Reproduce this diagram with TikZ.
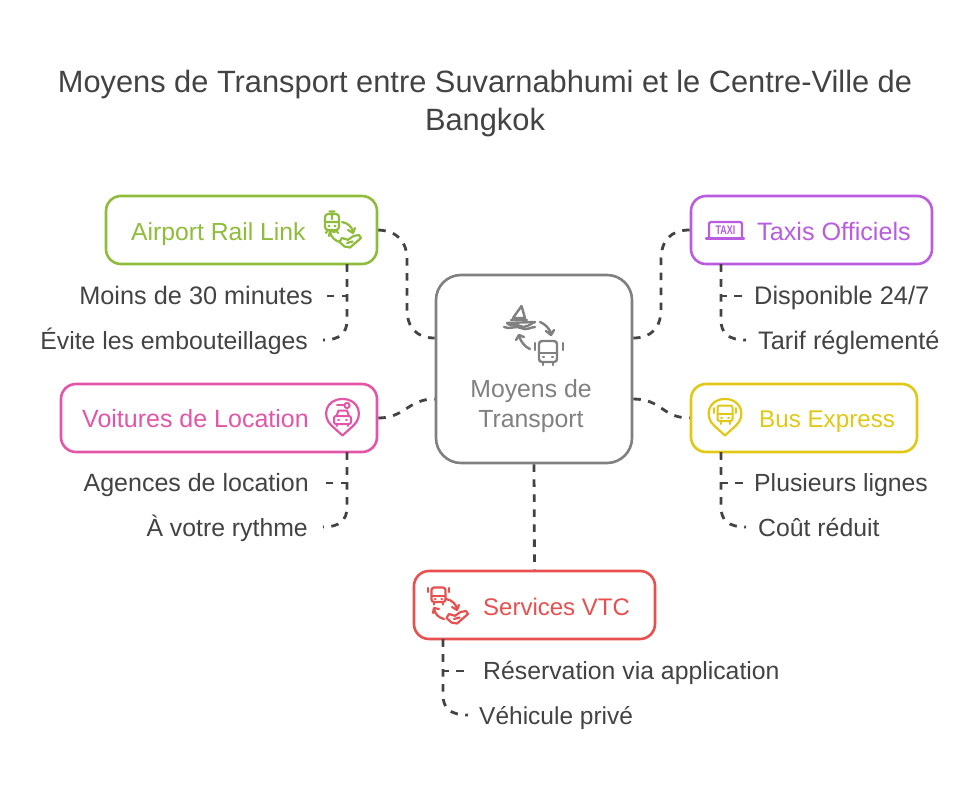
\documentclass[tikz,border=0pt]{standalone}
\usepackage{fontspec}
\setmainfont{Liberation Sans}
\definecolor{ink}{HTML}{434343}
\definecolor{hub}{HTML}{808080}
\definecolor{cgreen}{HTML}{8FBC3A}
\definecolor{cpurple}{HTML}{B95CE0}
\definecolor{cpink}{HTML}{E355A6}
\definecolor{cyellow}{HTML}{E0C815}
\definecolor{cred}{HTML}{E8504F}
\tikzset{
  cardbox/.style={draw=#1,line width=2.6pt,rounded corners=15pt,fill=white,inner sep=0pt,text=#1},
  hubbox/.style={draw=hub,line width=2.6pt,rounded corners=25pt,fill=white,inner sep=0pt},
  link/.style={draw=ink,line width=2.8pt,dash pattern=on 7.5pt off 7.5pt},
  cardtext/.style={font=\fontsize{25}{29}\selectfont,anchor=base west,inner sep=0pt,text=#1},
  itemtext/.style={font=\fontsize{24.8}{29}\selectfont,text=ink,inner sep=0pt},
  ico/.style={line width=2.2pt,line cap=round,line join=round},
  pics/trainicon/.style={code={
    \draw[ico,draw=#1,rounded corners=3pt] (-7,-8) rectangle (7,8);
    \draw[ico,draw=#1] (-7,0) -- (7,0) (-2.5,-10.5) -- (2.5,-10.5) (-4,8) -- (-6,11) (4,8) -- (6,11) (-3.5,4) -- (-2.5,4) (3.5,4) -- (2.5,4) (0,-8) -- (0,-3);
  }},
  pics/busicon/.style={code={
    \draw[ico,draw=#1,rounded corners=2.5pt] (-7,-7.5) rectangle (7,7);
    \draw[ico,draw=#1] (-7,1) -- (7,1) (-4.5,7) -- (-4.5,9.5) (4.5,7) -- (4.5,9.5) (-10.5,-7) -- (-10.5,-3) (10.5,-7) -- (10.5,-3) (-3.5,4) -- (-3,4) (3.5,4) -- (3,4);
  }},
  pics/planehand/.style={code={
    \draw[ico,draw=#1] (-10.5,1) -- (-5.5,5.5) -- (0,6.5) -- (11,-3) -- (9,-6) -- (3.5,-5) -- (-2,-1.2) -- (-8,-3) -- cycle;
    \draw[ico,draw=#1] (-3,2) -- (2.5,.5);
  }},
  pics/swaparrows/.style={code={
    \draw[ico,draw=#1] (-3,-10) .. controls (3,-9) and (7,-5) .. (8,0);
    \draw[ico,draw=#1] (3,-2) -- (8,1) -- (10,-4);
    \draw[ico,draw=#1] (-5,10) .. controls (-10,9) and (-14,5) .. (-15,0);
    \draw[ico,draw=#1] (-16,4) -- (-15,-1) -- (-10,0);
  }},
  pics/pinshape/.style={code={
    \draw[ico,draw=#1] (0,20) -- (-11,10) .. controls (-21,1) and (-17,-16.5) .. (0,-16.5) .. controls (17,-16.5) and (21,1) .. (11,10) -- cycle;
  }}
}
\begin{document}
\begin{tikzpicture}[x=1pt,y=-1pt]
\useasboundingbox (0,0) rectangle (978,790);
\fill[white] (0,0) rectangle (978,790);
\node[font=\fontsize{30.8}{38}\selectfont,text=ink,anchor=base,inner sep=0pt] (title) at (485,92) {Moyens de Transport entre Suvarnabhumi et le Centre-Ville de};
\node[font=\fontsize{30.8}{38}\selectfont,text=ink,anchor=base,inner sep=0pt] (title2) at (485,130) {Bangkok};

\node[hubbox,minimum width=196pt,minimum height=188pt] (hub) at (534,369) {};
\node[cardbox=cgreen,minimum width=271pt,minimum height=68pt] (rail) at (241.5,230) {};
\node[cardbox=cpurple,minimum width=241pt,minimum height=68pt] (taxi) at (811.5,230) {};
\node[cardbox=cpink,minimum width=316pt,minimum height=68pt] (car) at (219,418) {};
\node[cardbox=cyellow,minimum width=226pt,minimum height=68pt] (bus) at (804,418) {};
\node[cardbox=cred,minimum width=241pt,minimum height=68pt] (vtc) at (534.5,605) {};

\node[itemtext,text=hub,anchor=base] (hubt) at (531,397) {Moyens de};
\node[itemtext,text=hub,anchor=base] (hubu) at (531,427) {Transport};
\node[cardtext=cgreen,font=\fontsize{24.7}{29}\selectfont] (railt) at (131,240) {Airport Rail Link};
\node[cardtext=cpurple,font=\fontsize{25.2}{29}\selectfont] (taxit) at (757,240) {Taxis Officiels};
\node[cardtext=cpink] (cart) at (82,427) {Voitures de Location};
\node[cardtext=cyellow,font=\fontsize{24.2}{29}\selectfont] (bust) at (759,427) {Bus Express};
\node[cardtext=cred,font=\fontsize{24}{29}\selectfont] (vtct) at (483,615) {Services VTC};

\node[itemtext,font=\fontsize{25.3}{29}\selectfont,anchor=base east] (r1) at (313,304) {Moins de 30 minutes};
\node[itemtext,anchor=base east] (r2) at (308,349) {Évite les embouteillages};
\node[itemtext,font=\fontsize{25.4}{29}\selectfont,anchor=base west] (t1) at (754,304) {Disponible 24/7};
\node[itemtext,font=\fontsize{25.3}{29}\selectfont,anchor=base west] (t2) at (758,349) {Tarif réglementé};
\node[itemtext,font=\fontsize{25}{29}\selectfont,anchor=base east] (c1) at (309,491) {Agences de location};
\node[itemtext,anchor=base east] (c2) at (308,536) {À votre rythme};
\node[itemtext,anchor=base west] (b1) at (754,491) {Plusieurs lignes};
\node[itemtext,anchor=base west] (b2) at (758,536) {Coût réduit};
\node[itemtext,anchor=base west] (v1) at (483,679) {Réservation via application};
\node[itemtext,font=\fontsize{24.5}{29}\selectfont,anchor=base west] (v2) at (479,724) {Véhicule privé};

\coordinate (hL1) at (hub.west |- 0,338);
\coordinate (hR1) at (hub.east |- 0,338);
\coordinate (hL2) at (hub.west |- 0,399);
\coordinate (hR2) at (hub.east |- 0,399);
\coordinate (rE) at (rail.east);
\coordinate (tW) at (taxi.west);
\coordinate (cE) at (car.east);
\coordinate (bW) at (bus.west);

\draw[link] (rE) .. controls (397,231) and (407,241) .. (407,260) -- (407,309) .. controls (407,328) and (417,338) .. (hL1);
\draw[link] (tW) .. controls (671,230) and (661,240) .. (661,260) -- (661,309) .. controls (661,328) and (651,338) .. (hR1);
\draw[link] (cE) .. controls (405,418) and (408,399) .. (hL2);
\draw[link] (hR2) .. controls (662,399) and (662,418) .. (bW);
\draw[link] (hub.south) -- (vtc.north);

% leaf connectors
\coordinate (rS) at (347,264); \coordinate (tS) at (721,264);
\coordinate (cS) at (347,452); \coordinate (bS) at (721,452);
\coordinate (vS) at (443,639);
\coordinate (re1) at (324,296); \coordinate (re2) at (323,340);
\coordinate (te1) at (744,296); \coordinate (te2) at (746,340);
\coordinate (ce1) at (324,483); \coordinate (ce2) at (323,527);
\coordinate (be1) at (744,483); \coordinate (be2) at (746,527);
\coordinate (ve1) at (467,671); \coordinate (ve2) at (468,715);

\draw[link] (rS) -- (rS |- re1) -- (re1);
\draw[link] (rS) -- (347,320) .. controls (347,333) and (340,340) .. (re2);
\draw[link] (tS) -- (tS |- te1) -- (te1);
\draw[link] (tS) -- (721,320) .. controls (721,333) and (728,340) .. (te2);
\draw[link] (cS) -- (cS |- ce1) -- (ce1);
\draw[link] (cS) -- (347,507) .. controls (347,520) and (340,527) .. (ce2);
\draw[link] (bS) -- (bS |- be1) -- (be1);
\draw[link] (bS) -- (721,507) .. controls (721,520) and (728,527) .. (be2);
\draw[link] (vS) -- (vS |- ve1) -- (ve1);
\draw[link] (vS) -- (443,695) .. controls (443,708) and (450,715) .. (ve2);

% hub icon: boat, arrows, bus
\begin{scope}[ico,draw=hub,line width=2.4pt]
\draw (521.5,306) -- (513,318) -- (525,318) -- cycle (511,320) -- (527,320);
\draw (507,323) -- (535,322);
\draw (507,323) .. controls (512,328) and (516,323) .. (520,326) .. controls (525,329) and (530,324) .. (535,322);
\draw (504,327) .. controls (510,330) and (516,325) .. (521,328) .. controls (526,331) and (531,327) .. (535,327);
\draw (540,322) .. controls (545,324) and (549,328) .. (551,333) (546,331) -- (551,335) -- (554,330);
\draw (530,349) .. controls (525,347) and (521,342) .. (519,336) (516,340) -- (519,335) -- (524,337);
\draw[rounded corners=3pt] (539,341) rectangle (557,362);
\draw (539,353) -- (557,353) (543,362) -- (543,365) (553,362) -- (553,365) (535,343) -- (535,350) (563,343) -- (563,350) (543,357) -- (544,357) (553,357) -- (552,357);
\end{scope}

% rail icon
\pic at (332,222) {trainicon=cgreen};
\pic at (350,241) {planehand=cgreen};
\pic at (345,232) {swaparrows=cgreen};

% taxi icon
\draw[ico,draw=cpurple,rounded corners=2pt] (709,238) -- (709,222) -- (742,222) -- (742,238);
\draw[ico,draw=cpurple] (706,238.5) -- (744,238.5);
\node[font=\bfseries\fontsize{12.5}{12}\selectfont,text=cpurple,inner sep=0pt,xscale=.72] (taxig) at (725.5,230.5) {TAXI};

% car icon
\pic at (342.5,415.5) {pinshape=cpink};
\begin{scope}[ico,draw=cpink,line width=2pt]
\draw (337,405) -- (344,405);
\draw (347,405.5) circle (2.6pt);
\draw (336.5,416) -- (338.5,410.5) -- (347,410.5) -- (349,416);
\draw[rounded corners=2pt] (334,416) rectangle (351,424);
\draw (337,424) -- (337,426) (348,424) -- (348,426) (338,420) -- (339,420) (347,420) -- (346,420);
\end{scope}

% bus pin icon
\pic at (725,415.5) {pinshape=cyellow};
\begin{scope}[ico,draw=cyellow,line width=2pt]
\draw[rounded corners=2pt] (717.5,405.5) rectangle (732.5,421);
\draw (717.5,414) -- (732.5,414) (714,408) -- (714,413) (736,408) -- (736,413) (720.5,421) -- (720.5,424) (729.5,421) -- (729.5,424) (721,418) -- (722,418) (729,418) -- (728,418);
\end{scope}

% vtc icon
\pic at (438.5,595) {busicon=cred};
\pic at (457,617) {planehand=cred};
\pic at (449,609) {swaparrows=cred};
\end{tikzpicture}
\end{document}
